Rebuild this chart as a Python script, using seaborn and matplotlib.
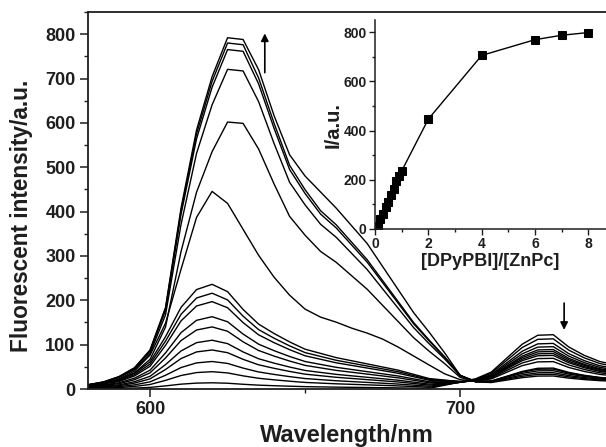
import numpy as np
import pandas as pd
import matplotlib
matplotlib.use("Agg")
import matplotlib.pyplot as plt
import seaborn as sns
from matplotlib.ticker import MultipleLocator

# ---------------- data ----------------
wavelength = [580, 585, 590, 595, 600, 605, 610, 615, 620, 625, 630, 635, 640,
              645, 650, 655, 660, 665, 670, 675, 680, 685, 690, 695, 700, 705,
              710, 715, 720, 725, 730, 735, 740, 745, 750]

# normalised shapes of the first emission band
shape_low = [0.04, 0.06, 0.085, 0.15, 0.26, 0.50, 0.78, 0.95, 1.00, 0.93, 0.76,
             0.62, 0.53, 0.45, 0.38, 0.34, 0.30, 0.27, 0.24, 0.21, 0.18, 0.14,
             0.10, 0.07, 0.04, 0.03, 0.02, 0.02, 0.02, 0.015, 0.015, 0.015,
             0.015, 0.015, 0.015]
shape_mid = [0.02, 0.03, 0.05, 0.09, 0.17, 0.33, 0.60, 0.86, 0.99, 0.93, 0.80,
             0.67, 0.56, 0.47, 0.40, 0.36, 0.335, 0.305, 0.28, 0.25, 0.21, 0.165,
             0.12, 0.07, 0.035, 0.02, 0.01, 0.01, 0.01, 0.01, 0.01, 0.01, 0.01,
             0.01, 0.01]
shape_high = [0.012, 0.02, 0.035, 0.06, 0.11, 0.23, 0.51, 0.73, 0.88, 0.99, 0.985,
              0.89, 0.76, 0.64, 0.57, 0.51, 0.47, 0.42, 0.37, 0.31, 0.25, 0.19,
              0.14, 0.09, 0.035, 0.015, 0.01, 0.01, 0.01, 0.01, 0.01, 0.01, 0.01,
              0.01, 0.01]
shape_top = [0.012, 0.02, 0.035, 0.06, 0.11, 0.23, 0.51, 0.73, 0.88, 0.99, 0.985,
             0.90, 0.77, 0.66, 0.60, 0.555, 0.51, 0.46, 0.41, 0.345, 0.28, 0.215,
             0.16, 0.10, 0.035, 0.015, 0.01, 0.01, 0.01, 0.01, 0.01, 0.01, 0.01,
             0.01, 0.01]
# normalised shape of the second (ZnPc) band
shape_band2 = [0, 0, 0, 0, 0, 0, 0, 0, 0, 0, 0, 0, 0, 0, 0, 0, 0, 0, 0, 0, 0, 0,
               0, 0.06, 0.12, 0.18, 0.30, 0.55, 0.80, 0.96, 0.97, 0.75, 0.60,
               0.49, 0.43]

peak_band1 = [14, 39, 62, 88, 110, 140, 163, 197, 216, 236, 450, 608, 728, 773, 788, 800]
peak_band2 = [126, 116, 105, 97, 90, 85, 80, 75, 68, 60, 44, 40, 35, 30, 26, 22]
band1_shape = ["low"] * 10 + ["mid", "high", "high", "high", "high", "top"]

# inset titration curve
ratio = [0.1, 0.2, 0.3, 0.4, 0.5, 0.6, 0.7, 0.8, 0.9, 1.0, 2, 4, 6, 7, 8]
intensity_inset = [14, 39, 62, 88, 110, 140, 163, 197, 216, 236, 447, 706, 770, 788, 799]

shapes = {"low": shape_low, "mid": shape_mid, "high": shape_high, "top": shape_top}

rows = []
for i, (p1, p2, sid) in enumerate(zip(peak_band1, peak_band2, band1_shape)):
    for w, s1, s2 in zip(wavelength, shapes[sid], shape_band2):
        rows.append({"curve": i, "wavelength": w, "intensity": p1 * s1 + p2 * s2})
df = pd.DataFrame(rows)
df_inset = pd.DataFrame({"ratio": ratio, "I": intensity_inset})

# ---------------- style ----------------
sns.set_style("ticks")
plt.rcParams["font.family"] = ["Liberation Sans", "DejaVu Sans"]
plt.rcParams["font.weight"] = "bold"
plt.rcParams["axes.labelweight"] = "bold"
INK = "#1e1e1e"

fig = plt.figure(figsize=(6.06, 4.47), dpi=100)
ax = fig.add_axes([88 / 606, 1 - 389 / 447, 1 - 88 / 606, (389 - 12) / 447])

sns.lineplot(data=df, x="wavelength", y="intensity", units="curve",
             estimator=None, color="black", lw=1.0, ax=ax, legend=False)

ax.set_xlim(580, 747)
ax.set_ylim(0, 850)
ax.xaxis.set_major_locator(MultipleLocator(100))
ax.xaxis.set_minor_locator(MultipleLocator(50))
ax.yaxis.set_major_locator(MultipleLocator(100))
ax.yaxis.set_minor_locator(MultipleLocator(50))
ax.tick_params(which="major", direction="out", length=5.5, width=1.1,
               labelsize=13, pad=3.5, colors=INK)
ax.tick_params(which="minor", direction="out", length=3, width=1.0, colors=INK)
for sp in ["left", "bottom", "top"]:
    ax.spines[sp].set_linewidth(1.3)
    ax.spines[sp].set_color(INK)
ax.spines["right"].set_visible(False)

ax.set_xlabel("Wavelength/nm", fontsize=17, fontweight="bold", labelpad=4, color=INK)
ax.set_ylabel("Fluorescent intensity/a.u.", fontsize=16.3, fontweight="bold", color=INK)
ax.yaxis.set_label_coords(-0.106, 0.459)

ax.annotate("", xy=(637, 808), xytext=(637, 707),
            arrowprops=dict(arrowstyle="-|>", color="black", lw=1.2, mutation_scale=11))
ax.annotate("", xy=(733.5, 127), xytext=(733.5, 200),
            arrowprops=dict(arrowstyle="-|>", color="black", lw=1.2, mutation_scale=11))

# ---------------- inset ----------------
axin = fig.add_axes([375 / 606, 1 - 229 / 447, 1 - 375 / 606, (229 - 20) / 447])
axin.patch.set_alpha(0)
sns.lineplot(data=df_inset, x="ratio", y="I", marker="s", markersize=6,
             color="black", lw=1.0, markeredgecolor="black", ax=axin, legend=False)
axin.set_xlim(0, 8.66)
axin.set_ylim(0, 850)
axin.xaxis.set_major_locator(MultipleLocator(2))
axin.xaxis.set_minor_locator(MultipleLocator(1))
axin.yaxis.set_major_locator(MultipleLocator(200))
axin.yaxis.set_minor_locator(MultipleLocator(100))
axin.tick_params(which="major", direction="out", length=4, width=1.0, pad=2,
                 labelsize=10, colors=INK)
axin.tick_params(which="minor", direction="out", length=2.5, width=1.0, colors=INK)
for sp in ["top", "right"]:
    axin.spines[sp].set_visible(False)
for sp in ["left", "bottom"]:
    axin.spines[sp].set_linewidth(1.1)
    axin.spines[sp].set_color(INK)
axin.set_xlabel("[DPyPBI]/[ZnPc]", fontsize=13, fontweight="bold", labelpad=1, color=INK)
axin.set_ylabel("I/a.u.", fontsize=14.5, fontweight="bold", color=INK)
axin.yaxis.set_label_coords(-0.142, 0.5)

fig.savefig("out.png", dpi=100)
